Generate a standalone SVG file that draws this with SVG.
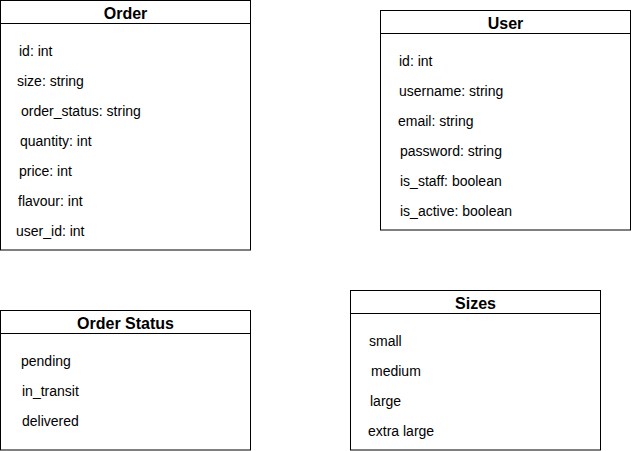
<svg xmlns="http://www.w3.org/2000/svg" width="631" height="451" viewBox="0 0 631 451">
<style>
.box{fill:#fff;stroke:#000;stroke-width:1}
.sep{stroke:#000;stroke-width:1}
.h{font-family:"Liberation Sans",Arial,sans-serif;font-size:16px;font-weight:bold;text-anchor:middle;fill:#000}
.t{font-family:"Liberation Sans",Arial,sans-serif;font-size:14px;fill:#000}
</style>
<rect width="631" height="451" fill="#fff"/>
<g id="order">
<rect class="box" x="0.5" y="0.5" width="250" height="249.5"/>
<line class="sep" x1="0.5" y1="23.5" x2="250.5" y2="23.5"/>
<text class="h" x="125.5" y="19">Order</text>
<text class="t" x="19" y="56">id: int</text>
<text class="t" x="17" y="86">size: string</text>
<text class="t" x="21" y="116">order_status: string</text>
<text class="t" x="20" y="146">quantity: int</text>
<text class="t" x="19" y="176">price: int</text>
<text class="t" x="18" y="206">flavour: int</text>
<text class="t" x="16" y="236">user_id: int</text>
</g>
<g id="user">
<rect class="box" x="380.5" y="10.5" width="250" height="219.5"/>
<line class="sep" x1="380.5" y1="33.5" x2="630.5" y2="33.5"/>
<text class="h" x="505.5" y="29">User</text>
<text class="t" x="399" y="66">id: int</text>
<text class="t" x="399" y="96">username: string</text>
<text class="t" x="398" y="126">email: string</text>
<text class="t" x="400" y="156">password: string</text>
<text class="t" x="400" y="186">is_staff: boolean</text>
<text class="t" x="400" y="216">is_active: boolean</text>
</g>
<g id="order-status">
<rect class="box" x="0.5" y="310.5" width="250" height="139.5"/>
<line class="sep" x1="0.5" y1="333.5" x2="250.5" y2="333.5"/>
<text class="h" x="125.5" y="329">Order Status</text>
<text class="t" x="21" y="366">pending</text>
<text class="t" x="22" y="396">in_transit</text>
<text class="t" x="22" y="426">delivered</text>
</g>
<g id="sizes">
<rect class="box" x="350.5" y="290.5" width="250" height="159.5"/>
<line class="sep" x1="350.5" y1="313.5" x2="600.5" y2="313.5"/>
<text class="h" x="475.5" y="309">Sizes</text>
<text class="t" x="369" y="346">small</text>
<text class="t" x="371" y="376">medium</text>
<text class="t" x="370" y="406">large</text>
<text class="t" x="368" y="436">extra large</text>
</g>
<g id="connectors"></g>
</svg>
